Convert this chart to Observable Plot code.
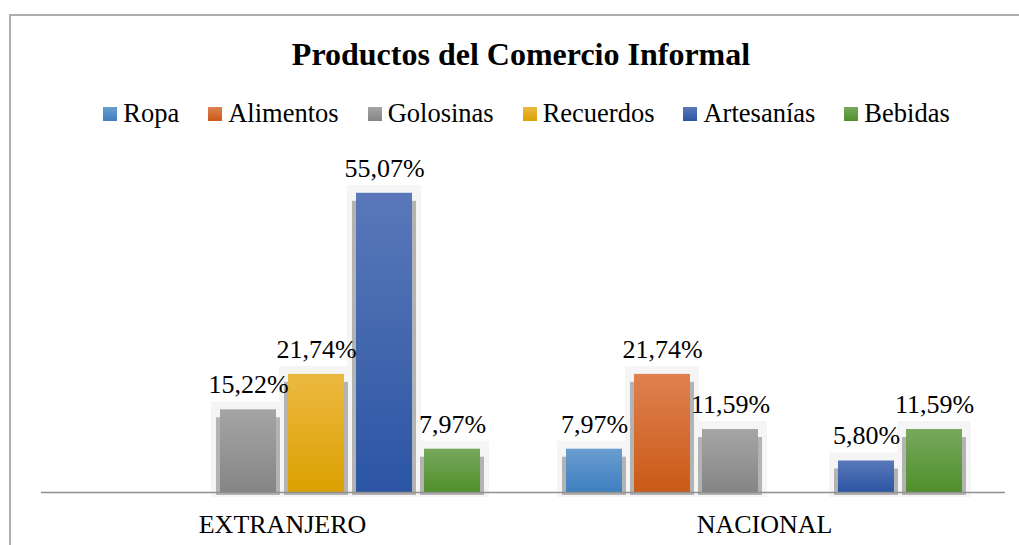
<!DOCTYPE html>
<html><head><meta charset="utf-8">
<script src="https://cdn.jsdelivr.net/npm/d3@7"></script>
<script src="https://cdn.jsdelivr.net/npm/@observablehq/plot@0.6"></script>
<style>
html,body{margin:0;padding:0;background:#fff;overflow:hidden;width:1019px;height:545px;position:relative;}
#frame{position:absolute;left:9px;top:14px;width:1100px;height:600px;border-top:2px solid #adadad;border-left:2px solid #adadad;}
#title{position:absolute;left:0;top:38px;width:1042px;text-align:center;font:bold 32px "Liberation Serif",serif;line-height:1;color:#000;}
#legend{position:absolute;left:17px;top:100px;width:1019px;display:flex;justify-content:center;gap:29px;font:26.5px "Liberation Serif",serif;line-height:1;color:#000;}
.item{display:flex;align-items:baseline;gap:6px}
.sw{width:14px;height:14px;display:inline-block;position:relative;top:-1px}
#chart svg{position:absolute;left:0;top:140px}
</style>
</head>
<body>
<div id="frame"></div>
<div id="title">Productos del Comercio Informal</div>
<div id="legend"></div>
<div id="chart"></div>
<script>
const groups = ["EXTRANJERO", "NACIONAL"];
const series = ["Ropa", "Alimentos", "Golosinas", "Recuerdos", "Artesanías", "Bebidas"];
const extranjero = [0, 0, 15.22, 21.74, 55.07, 7.97];
const nacional = [7.97, 21.74, 11.59, 0, 5.80, 11.59];
const topColors = ["#6a9dd0", "#df8150", "#a5a5a5", "#ecb941", "#5a78b9", "#78a85d"];
const bottomColors = ["#3e7fbf", "#ca5a17", "#858585", "#dba000", "#2b55a4", "#4f8f2a"];

const values = {EXTRANJERO: extranjero, NACIONAL: nacional};
const rows = [];
for (const g of groups) {
  series.forEach((s, i) => {
    const v = values[g][i];
    if (v > 0) rows.push({group: g, serie: s, idx: i, value: v});
  });
}

// legend
const legend = document.getElementById("legend");
series.forEach((s, i) => {
  const item = document.createElement("div");
  item.className = "item";
  const sw = document.createElement("span");
  sw.className = "sw";
  sw.style.background = `linear-gradient(${topColors[i]}, ${bottomColors[i]})`;
  const t = document.createElement("span");
  t.textContent = s;
  item.appendChild(sw); item.appendChild(t);
  legend.appendChild(item);
});

const fmt = v => v.toFixed(2).replace(".", ",") + "%";

const chart = Plot.plot({
  width: 1019,
  height: 405,
  marginLeft: 40,
  marginRight: 14,
  marginTop: 26,
  marginBottom: 53,
  style: {fontFamily: '"Liberation Serif", serif', fontSize: "26px", color: "#000", background: "transparent", overflow: "visible"},
  fx: {domain: groups, padding: 0, label: null, tickSize: 0, tickPadding: 22},
  x: {domain: series, paddingInner: 0.174, paddingOuter: 0.583, axis: null},
  y: {domain: [0, 60], axis: null},
  color: {type: "identity"},
  marks: [
    Plot.barY(rows, {fx: "group", x: "serie", y: "value", fill: "#f5f5f5", insetLeft: -9, insetRight: -9, insetTop: -8, insetBottom: -5}),
    Plot.barY(rows, {fx: "group", x: "serie", y: "value", fill: "#b3b3b3", insetLeft: -4, insetRight: -4, insetTop: 8, insetBottom: -3}),
    Plot.barY(rows, {fx: "group", x: "serie", y: "value", fill: d => `url(#grad-${d.idx})`}),
    Plot.ruleY([0], {stroke: "#8f8f8f", strokeWidth: 1.5}),
    Plot.text(rows, {fx: "group", x: "serie", y: "value", text: d => fmt(d.value), lineAnchor: "bottom", dy: -16.5, fontSize: 26, fill: "#000"})
  ]
});

const defs = d3.select(chart).insert("defs", ":first-child");
series.forEach((s, i) => {
  const g = defs.append("linearGradient").attr("id", `grad-${i}`)
    .attr("x1", 0).attr("y1", 0).attr("x2", 0).attr("y2", 1);
  g.append("stop").attr("offset", "0%").attr("stop-color", topColors[i]);
  g.append("stop").attr("offset", "100%").attr("stop-color", bottomColors[i]);
});

document.getElementById("chart").appendChild(chart);
</script>
</body></html>
